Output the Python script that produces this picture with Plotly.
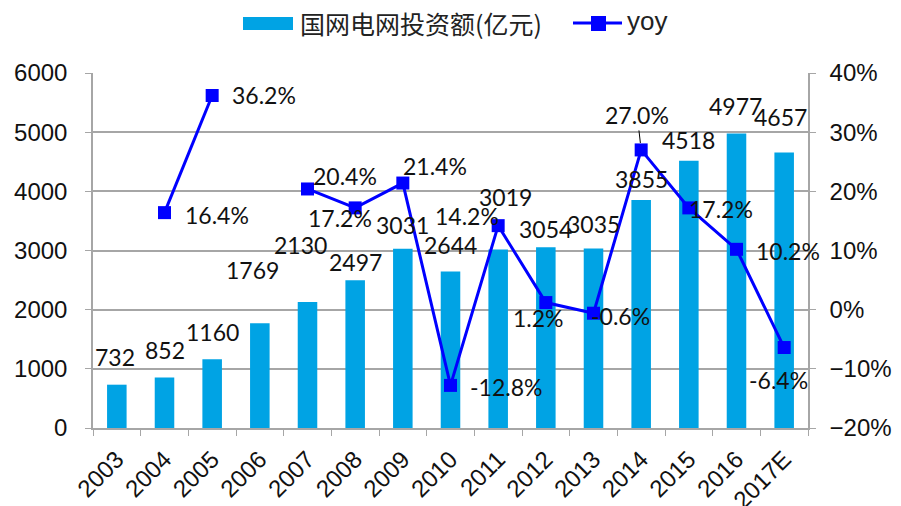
import plotly.graph_objects as go

years = ["2003", "2004", "2005", "2006", "2007", "2008", "2009", "2010",
         "2011", "2012", "2013", "2014", "2015", "2016", "2017E"]
invest = [732, 852, 1160, 1769, 2130, 2497, 3031, 2644, 3019, 3054, 3035,
          3855, 4518, 4977, 4657]
yoy = [None, 0.164, 0.362, None, 0.204, 0.172, 0.214, -0.128, 0.142, 0.012,
       -0.006, 0.270, 0.172, 0.102, -0.064]
yoy_text = ["", "16.4%", "36.2%", "", "20.4%", "17.2%", "21.4%", "-12.8%",
            "14.2%", "1.2%", "-0.6%", "27.0%", "17.2%", "10.2%", "-6.4%"]

bar_name = "国网电网投资额(亿元)"
line_name = "yoy"

BAR_COLOR = "#00A3E4"
LINE_COLOR = "#0000FF"
GRID = "#A6A6A6"

xi = list(range(len(years)))

# label pixel offsets (style)
bar_off = [(-2, 28), (0, 28), (0, 27), (-7, 53), (-7, 57), (0, 18), (0, 24),
           (0, 27), (7, 52), (0, 18), (0, 24), (0, 21), (0, 21), (-1, 28), (-4, 35)]
yoy_off = [(0, 0), (52, -2), (52, 0), (0, 0), (37, 13), (-15, -10), (32, 17),
           (55, -2), (-31, 10), (-7, -15), (27, -3), (-4, 35), (32, -1), (51, -2), (-6, -32)]

fig = go.Figure()
fig.add_trace(go.Bar(x=xi, y=invest, name=bar_name, marker_color=BAR_COLOR,
                     marker_line_width=0, showlegend=False, width=0.41))
fig.add_trace(go.Scatter(x=xi, y=yoy, name=line_name, yaxis="y2",
                         mode="lines+markers", connectgaps=False,
                         line=dict(color=LINE_COLOR, width=3),
                         marker=dict(symbol="square", size=13, color=LINE_COLOR),
                         showlegend=False))

LBL_FONT = dict(family="Lato, Carlito, sans-serif", size=23, color="#111111")
anns = []
for i, v in enumerate(invest):
    dx, dy = bar_off[i]
    anns.append(dict(x=xi[i], y=v, xref="x", yref="y", text=str(v), showarrow=False,
                     xshift=dx, yshift=dy, font=LBL_FONT))
for i, v in enumerate(yoy):
    if v is None:
        continue
    dx, dy = yoy_off[i]
    if yoy_text[i] == "27.0%":
        anns.append(dict(x=xi[i], y=v, xref="x", yref="y2", text=yoy_text[i],
                         showarrow=True, arrowhead=0, arrowwidth=1, arrowcolor="#000",
                         ax=dx, ay=-dy, standoff=7, font=LBL_FONT))
    else:
        anns.append(dict(x=xi[i], y=v, xref="x", yref="y2", text=yoy_text[i],
                         showarrow=False, xshift=dx, yshift=dy, font=LBL_FONT))

# plot area in screen pixels (page body adds an 8px offset)
OFF = 8
L, R, T, B = 93, 808, 73, 428
def px(x):
    return (x - L) / (R - L)
def py(y):
    return (B - y) / (B - T)

shapes = [
    dict(type="rect", xref="paper", yref="paper", x0=px(243), x1=px(293),
         y0=py(30), y1=py(17), fillcolor=BAR_COLOR, line_width=0),
    dict(type="line", xref="paper", yref="paper", x0=px(573), x1=px(622),
         y0=py(23), y1=py(23), line=dict(color=LINE_COLOR, width=3)),
    dict(type="rect", xref="paper", yref="paper", x0=px(591), x1=px(606),
         y0=py(31), y1=py(16), fillcolor=LINE_COLOR, line_width=0),
]
anns.append(dict(x=px(298), y=py(23), xref="paper", yref="paper", text=bar_name,
                 showarrow=False, xanchor="left", yanchor="middle",
                 font=dict(family="Noto Sans CJK SC", size=25, color="#222222")))
anns.append(dict(x=px(625), y=py(21), xref="paper", yref="paper", text=line_name,
                 showarrow=False, xanchor="left", yanchor="middle",
                 font=dict(family="Liberation Sans, Arial", size=26, color="#222222")))

W, H = 901 - OFF, 506 - OFF
TICK_FONT = dict(family="Liberation Sans, Arial", size=24, color="#111111")
fig.update_layout(
    width=W, height=H,
    margin=dict(l=L - OFF, r=W - (R - OFF), t=T - OFF, b=H - (B - OFF), autoexpand=False),
    paper_bgcolor="white", plot_bgcolor="white",
    showlegend=False,
    annotations=anns, shapes=shapes,
    xaxis=dict(range=[-0.5, len(years) - 0.5], autorange=False, automargin=False,
               tickmode="array", tickvals=xi, ticktext=years,
               tickangle=-45, tickfont=TICK_FONT, ticklabelstandoff=6,
               showline=True, linecolor=GRID, linewidth=1.5,
               ticks="", showgrid=False, zeroline=False,
               minor=dict(tick0=-0.5, dtick=1, ticks="outside", ticklen=6,
                          tickcolor=GRID, showgrid=False)),
    yaxis=dict(range=[0, 6000], autorange=False, automargin=False, dtick=1000,
               tickfont=TICK_FONT,
               showgrid=True, gridcolor=GRID, gridwidth=1.5,
               showline=True, linecolor=GRID, linewidth=1.5,
               ticks="outside", ticklen=6, tickcolor=GRID, zeroline=False,
               ticklabelstandoff=13),
    yaxis2=dict(range=[-0.2, 0.4], autorange=False, automargin=False, dtick=0.1,
                tickformat=".0%",
                overlaying="y", side="right", tickfont=TICK_FONT, showgrid=False,
                showline=True, linecolor=GRID, linewidth=1.5,
                ticks="outside", ticklen=6, tickcolor=GRID, zeroline=False,
                ticklabelstandoff=9),
)

fig.write_html("out.html")
